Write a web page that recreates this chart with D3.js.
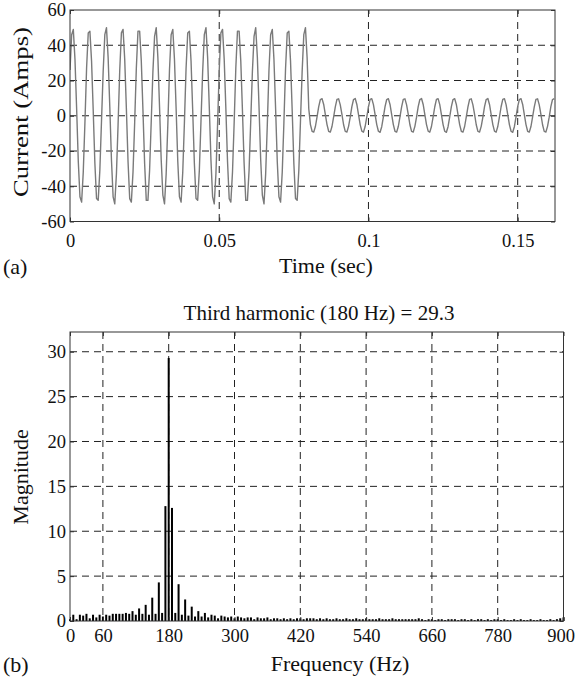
<!DOCTYPE html>
<html>
<head>
<meta charset="utf-8">
<script src="https://cdn.jsdelivr.net/npm/d3@7"></script>
<style>
  html, body { margin: 0; padding: 0; background: #fff; }
  svg { display: block; }
  text { font-family: "Liberation Serif", "Times New Roman", serif; fill: #111; }
</style>
</head>
<body>
<svg id="chart" width="575" height="678"></svg>
<script>
// ---------- DATA ----------
// (a) Sampled current waveform (Amps), sampled at 1800 samples/s
const sampleRate = 1800;
const currentSamples = [
  26, 46, 49, 32, 4, -26, -46, -49, -32, -4,
  27, 47, 48, 31, 3, -27, -47, -48, -31, -3,
  25, 46, 50, 33, 5, -25, -46, -50, -33, -5,
  26, 47, 49, 32, 4, -26, -47, -49, -32, -4,
  27, 48, 48, 31, 3, -27, -48, -48, -31, -3,
  25, 45, 50, 33, 5, -25, -45, -50, -33, -5,
  26, 46, 49, 32, 4, -26, -46, -49, -32, -4,
  27, 47, 48, 31, 3, -27, -47, -48, -31, -3,
  25, 46, 50, 33, 5, -25, -46, -50, -33, -5,
  26, 47, 49, 32, 4, -26, -47, -49, -32, -4,
  27, 48, 48, 31, 3, -27, -48, -48, -31, -3,
  25, 45, 50, 33, 5, -25, -45, -50, -33, -5,
  26, 46, 49, 32, 4, -26, -46, -49, -32, -4,
  27, 47, 48, 31, 3, -27, -47, -48, -31, -3,
  25, 46, 50, 33, 4, -5.0, -8.8, -9.3, -6.1, -0.7,
  5.2, 9.2, 9.7, 6.4, 0.7, -5.0, -8.8, -9.3, -6.1, -0.7,
  5.0, 9.3, 9.6, 6.2, 0.8, -5.1, -8.9, -9.2, -6.0, -0.8,
  5.2, 9.2, 9.8, 6.4, 0.7, -5.0, -8.7, -9.3, -6.1, -0.7,
  5.1, 9.3, 9.7, 6.3, 0.6, -5.0, -8.8, -9.4, -6.2, -0.7,
  5.2, 9.2, 9.7, 6.4, 0.7, -5.0, -8.8, -9.3, -6.1, -0.7,
  5.0, 9.3, 9.6, 6.2, 0.8, -5.1, -8.9, -9.2, -6.0, -0.8,
  5.2, 9.2, 9.8, 6.4, 0.7, -5.0, -8.7, -9.3, -6.1, -0.7,
  5.1, 9.3, 9.7, 6.3, 0.6, -5.0, -8.8, -9.4, -6.2, -0.7,
  5.2, 9.2, 9.7, 6.4, 0.7, -5.0, -8.8, -9.3, -6.1, -0.7,
  5.0, 9.3, 9.6, 6.2, 0.8, -5.1, -8.9, -9.2, -6.0, -0.8,
  5.2, 9.2, 9.8, 6.4, 0.7, -5.0, -8.7, -9.3, -6.1, -0.7,
  5.1, 9.3, 9.7, 6.3, 0.6, -5.0, -8.8, -9.4, -6.2, -0.7,
  5.2, 9.2, 9.7, 6.4, 0.7, -5.0, -8.8, -9.3, -6.1, -0.7,
  5.0, 9.3, 9.6, 6.2, 0.8, -5.1, -8.9, -9.2, -6.0, -0.8,
  5.2, 9.2, 9.7
];
const timeTicks = [0, 0.05, 0.1, 0.15];
const timeTickLabels = ["0", "0.05", "0.1", "0.15"];
const currentTicks = [-60, -40, -20, 0, 20, 40, 60];

// (b) FFT magnitude spectrum, one value per frequency bin (bin width 6 Hz)
const binWidthHz = 6;
const magnitudes = [
  0.2, 0.7, 0.2, 0.7, 0.6, 0.8, 0.3, 0.7, 0.4, 0.7,
  0.5, 0.7, 0.6, 0.8, 0.8, 0.8, 0.8, 0.9, 0.8, 1.1,
  0.7, 1.4, 0.8, 1.8, 0.7, 2.6, 0.8, 4.3, 0.9, 12.8,
  29.3, 12.6, 0.9, 4.1, 0.7, 2.4, 0.6, 1.6, 0.5, 1.1,
  0.5, 0.9, 0.4, 0.7, 0.6, 0.3, 0.6, 0.5, 0.4, 0.5,
  0.3, 0.5, 0.4, 0.3, 0.4, 0.4, 0.2, 0.4, 0.3, 0.3,
  0.4, 0.2, 0.3, 0.3, 0.2, 0.3, 0.2, 0.3, 0.2, 0.3,
  0.3, 0.2, 0.3, 0.3, 0.3, 0.2, 0.3, 0.2, 0.3, 0.2,
  0.2, 0.3, 0.2, 0.2, 0.3, 0.2, 0.2, 0.3, 0.2, 0.2,
  0.3, 0.2, 0.2, 0.2, 0.3, 0.2, 0.2, 0.2, 0.3, 0.2,
  0.2, 0.2, 0.2, 0.2, 0.2, 0.2, 0.3, 0.2, 0.1, 0.2,
  0.2, 0.1, 0.2, 0.2, 0.1, 0.2, 0.2, 0.2, 0.1, 0.2,
  0.2, 0.1, 0.2, 0.1, 0.2, 0.2, 0.1, 0.2, 0.1, 0.2,
  0.2, 0.1, 0.2, 0.1, 0.1, 0.2, 0.1, 0.2, 0.1, 0.1,
  0.2, 0.1, 0.1, 0.2, 0.1, 0.1, 0.2, 0.1, 0.2, 0.3,
  0.4
];
const freqTicks = [0, 60, 180, 300, 420, 540, 660, 780, 900];
const magTicks = [0, 5, 10, 15, 20, 25, 30];
const spectrumTitle = "Third harmonic (180 Hz) = 29.3";

// ---------- DRAW ----------
const svg = d3.select("#chart");
svg.append("rect").attr("width", 575).attr("height", 678).attr("fill", "#fff");

const tickFont = 18.5, labelFont = 22;
const dash = "7,5";
const boxColor = "#333";
const plainFmt = d => String(d);

// ===== Panel (a) =====
const A = { left: 70, right: 555, top: 10, bottom: 221.5 };
const xA = d3.scaleLinear().domain([0, 0.1625]).range([A.left, A.right]);
const yA = d3.scaleLinear().domain([-60, 60]).range([A.bottom, A.top]);
const gA = svg.append("g");

gA.selectAll(".hgrid").data(currentTicks.filter(d => d > -60 && d < 60)).enter()
  .append("line").attr("x1", A.left).attr("x2", A.right)
  .attr("y1", d => yA(d)).attr("y2", d => yA(d))
  .attr("stroke", "#222").attr("stroke-width", 1).attr("stroke-dasharray", dash);
gA.selectAll(".vgrid").data(timeTicks.filter(d => d > 0)).enter()
  .append("line").attr("y1", A.top).attr("y2", A.bottom)
  .attr("x1", d => xA(d)).attr("x2", d => xA(d))
  .attr("stroke", "#222").attr("stroke-width", 1).attr("stroke-dasharray", dash);

const wave = currentSamples.map((v, i) => ({ t: i / sampleRate, v }));
svg.append("clipPath").attr("id", "clipA").append("rect")
  .attr("x", A.left).attr("y", A.top).attr("width", A.right - A.left).attr("height", A.bottom - A.top);
gA.append("path").datum(wave)
  .attr("clip-path", "url(#clipA)")
  .attr("fill", "none").attr("stroke", "#7a7a7a").attr("stroke-width", 1.4)
  .attr("stroke-linejoin", "round")
  .attr("d", d3.line().x(d => xA(d.t)).y(d => yA(d.v)));

gA.append("g").attr("transform", `translate(0,${A.bottom})`)
  .call(d3.axisBottom(xA).tickValues(timeTicks).tickFormat((d, i) => timeTickLabels[i]).tickSizeInner(-4).tickSizeOuter(0).tickPadding(12));
gA.append("g").attr("transform", `translate(0,${A.top})`)
  .call(d3.axisTop(xA).tickValues(timeTicks).tickFormat("").tickSizeInner(-4).tickSizeOuter(0));
gA.append("g").attr("transform", `translate(${A.left},0)`)
  .call(d3.axisLeft(yA).tickValues(currentTicks).tickFormat(plainFmt).tickSizeInner(-4).tickSizeOuter(0).tickPadding(4));
gA.append("g").attr("transform", `translate(${A.right},0)`)
  .call(d3.axisRight(yA).tickValues(currentTicks).tickFormat("").tickSizeInner(-4).tickSizeOuter(0));

gA.append("rect").attr("x", A.left).attr("y", A.top)
  .attr("width", A.right - A.left).attr("height", A.bottom - A.top)
  .attr("fill", "none").attr("stroke", boxColor).attr("stroke-width", 1);

gA.append("text").attr("x", 326).attr("y", 273).attr("text-anchor", "middle")
  .attr("font-size", labelFont).text("Time (sec)");
gA.append("text").attr("x", 3).attr("y", 274)
  .attr("font-size", labelFont).text("(a)");
gA.append("text").attr("transform", `translate(28,112) rotate(-90)`).attr("text-anchor", "middle")
  .attr("font-size", labelFont).attr("textLength", 170).attr("lengthAdjust", "spacingAndGlyphs")
  .text("Current (Amps)");

// ===== Panel (b) =====
const B = { left: 70, right: 563.5, top: 332, bottom: 621 };
const xB = d3.scaleLinear().domain([0, 900]).range([B.left, B.right]);
const yB = d3.scaleLinear().domain([0, 32.2]).range([B.bottom, B.top]);
const gB = svg.append("g");

gB.selectAll(".hgrid").data(magTicks.filter(d => d > 0)).enter()
  .append("line").attr("x1", B.left).attr("x2", B.right)
  .attr("y1", d => yB(d)).attr("y2", d => yB(d))
  .attr("stroke", "#222").attr("stroke-width", 1).attr("stroke-dasharray", dash);
gB.selectAll(".vgrid").data(freqTicks.filter(d => d > 0 && d < 900)).enter()
  .append("line").attr("y1", B.top).attr("y2", B.bottom)
  .attr("x1", d => xB(d)).attr("x2", d => xB(d))
  .attr("stroke", "#222").attr("stroke-width", 1).attr("stroke-dasharray", dash);

const bins = magnitudes.map((m, k) => ({ f: k * binWidthHz, m }));
gB.selectAll(".bar").data(bins).enter().append("rect")
  .attr("x", d => xB(d.f) - 1)
  .attr("width", 2)
  .attr("y", d => yB(d.m))
  .attr("height", d => yB(0) - yB(d.m))
  .attr("fill", "#000");

const axB_b = gB.append("g").attr("transform", `translate(0,${B.bottom})`)
  .call(d3.axisBottom(xB).tickValues(freqTicks).tickFormat(plainFmt).tickSizeInner(-4).tickSizeOuter(0).tickPadding(8));
gB.append("g").attr("transform", `translate(0,${B.top})`)
  .call(d3.axisTop(xB).tickValues(freqTicks).tickFormat("").tickSizeInner(-4).tickSizeOuter(0));
gB.append("g").attr("transform", `translate(${B.left},0)`)
  .call(d3.axisLeft(yB).tickValues(magTicks).tickFormat(plainFmt).tickSizeInner(-4).tickSizeOuter(0).tickPadding(4));
gB.append("g").attr("transform", `translate(${B.right},0)`)
  .call(d3.axisRight(yB).tickValues(magTicks).tickFormat("").tickSizeInner(-4).tickSizeOuter(0));

gB.append("rect").attr("x", B.left).attr("y", B.top)
  .attr("width", B.right - B.left).attr("height", B.bottom - B.top)
  .attr("fill", "none").attr("stroke", boxColor).attr("stroke-width", 1);

gB.append("text").attr("x", 319).attr("y", 320).attr("text-anchor", "middle")
  .attr("font-size", 21).text(spectrumTitle);
gB.append("text").attr("x", 340).attr("y", 671).attr("text-anchor", "middle")
  .attr("font-size", labelFont).text("Frequency (Hz)");
gB.append("text").attr("x", 3).attr("y", 672)
  .attr("font-size", labelFont).text("(b)");
gB.append("text").attr("transform", `translate(28,477) rotate(-90)`).attr("text-anchor", "middle")
  .attr("font-size", labelFont).text("Magnitude");

// axis styling
svg.selectAll(".domain").remove();
svg.selectAll(".tick line").attr("stroke", boxColor);
svg.selectAll(".tick text").attr("font-size", tickFont)
  .attr("font-family", "'Liberation Serif', 'Times New Roman', serif").attr("fill", "#111");
// keep the last frequency label inside the page
axB_b.selectAll(".tick").filter(d => d === 900).select("text")
  .attr("text-anchor", "end").attr("dx", 11);
</script>
</body>
</html>
